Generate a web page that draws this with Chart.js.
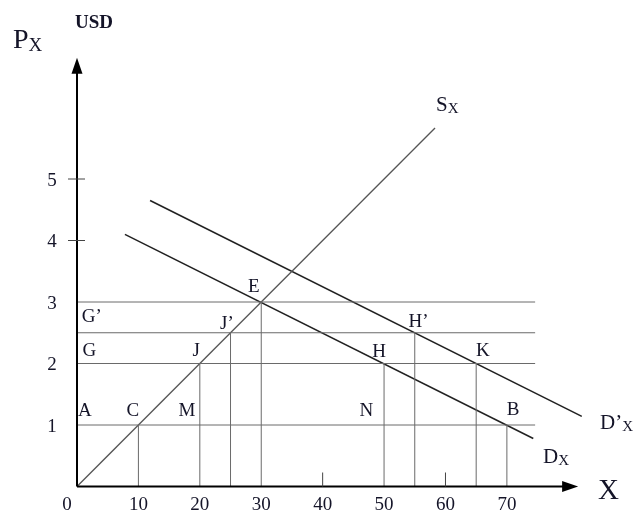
<!DOCTYPE html>
<html>
<head>
<meta charset="utf-8">
<script src="https://cdn.jsdelivr.net/npm/chart.js@4"></script>
<style>
  html, body { margin: 0; padding: 0; background: #fff; }
  #wrap { width: 637px; height: 516px; }
</style>
</head>
<body>
<div id="wrap"><canvas id="chart" width="637" height="516"></canvas></div>
<script>
// supply and the two demand curves (end points)
var supplyX = [0, 58.3]
var supplyY = [0, 5.83]
var demandX = [7.8, 74.3]
var demandY = [4.1, 0.78]
var demand2X = [11.9, 82.2]
var demand2Y = [4.65, 1.14]

// horizontal price lines, from the axis out to hEnd
var hLevels = [1, 2, 2.5, 3]
var hEnd = 74.6

// vertical quantity lines, from the axis up to vTop
var vX = [10, 20, 25, 30, 50, 55, 65, 70]
var vTop = [1, 2, 2.5, 3, 2, 2.5, 2, 1]

// tick labels
var xTicks = [0, 10, 20, 30, 40, 50, 60, 70]
var yTicks = [1, 2, 3, 4, 5]
var xTickMarks = [40, 60]
var yTickMarks = [4, 5]

// point names and where they sit
var ptNames = ["E", "J\u2019", "H\u2019", "G\u2019", "G", "J", "H", "K", "A", "C", "M", "N", "B"]
var ptX = [28.8, 24.4, 55.6, 2.4, 2.0, 19.4, 49.2, 66.1, 1.3, 9.1, 17.9, 47.1, 71.0]
var ptY = [3.24, 2.64, 2.68, 2.75, 2.2, 2.2, 2.18, 2.2, 1.22, 1.22, 1.22, 1.22, 1.24]

var xAxisEnd = 81.6
var yAxisEnd = 6.97

var serif = '"Liberation Serif", "Times New Roman", serif'
var ink = "#141428"

function seg(xs, ys){
  var out = []
  for(var i=0; i<xs.length; i++){
    out.push({x: xs[i], y: ys[i]})
  }
  return out
}

var datasets = []
hLevels.forEach(function(v){
  datasets.push({data: seg([0, hEnd], [v, v]), borderColor: "#6a6a6a", borderWidth: 1})
})
vX.forEach(function(v, i){
  datasets.push({data: seg([v, v], [0, vTop[i]]), borderColor: "#6a6a6a", borderWidth: 1})
})
datasets.push({data: seg(supplyX, supplyY), borderColor: "#555", borderWidth: 1.3})
datasets.push({data: seg(demandX, demandY), borderColor: "#222", borderWidth: 1.6})
datasets.push({data: seg(demand2X, demand2Y), borderColor: "#222", borderWidth: 1.6})

function subText(ctx, main, sub, x, y, size, subSize){
  // main letter followed by a lowered subscript
  ctx.font = size + "px " + serif
  ctx.textAlign = "left"
  ctx.textBaseline = "alphabetic"
  ctx.fillText(main, x, y)
  var w = ctx.measureText(main).width
  ctx.font = subSize + "px " + serif
  ctx.fillText(sub, x + w, y + size*0.1)
}

var drawBits = {
  id: "drawBits",
  afterDatasetsDraw: function(chart){
    var ctx = chart.ctx
    var xs = chart.scales.x
    var ys = chart.scales.y
    var x0 = xs.getPixelForValue(0)
    var y0 = ys.getPixelForValue(0)
    var xe = xs.getPixelForValue(xAxisEnd)
    var ye = ys.getPixelForValue(yAxisEnd)
    ctx.save()
    ctx.strokeStyle = "#000"
    ctx.fillStyle = "#000"
    ctx.lineWidth = 2
    ctx.beginPath()
    ctx.moveTo(x0, y0)
    ctx.lineTo(x0, ye + 12)
    ctx.moveTo(x0, y0)
    ctx.lineTo(xe - 12, y0)
    ctx.stroke()
    // arrow heads
    ctx.beginPath()
    ctx.moveTo(x0, ye)
    ctx.lineTo(x0 - 5.5, ye + 16)
    ctx.lineTo(x0 + 5.5, ye + 16)
    ctx.closePath()
    ctx.fill()
    ctx.beginPath()
    ctx.moveTo(xe, y0)
    ctx.lineTo(xe - 16, y0 - 5.5)
    ctx.lineTo(xe - 16, y0 + 5.5)
    ctx.closePath()
    ctx.fill()

    // small tick marks
    ctx.lineWidth = 1
    ctx.strokeStyle = "#444"
    ctx.beginPath()
    xTickMarks.forEach(function(v){
      var px = xs.getPixelForValue(v)
      ctx.moveTo(px, y0)
      ctx.lineTo(px, y0 - 14)
    })
    yTickMarks.forEach(function(v){
      var py = ys.getPixelForValue(v)
      ctx.moveTo(x0 - 9, py)
      ctx.lineTo(x0 + 8, py)
    })
    ctx.stroke()

    ctx.fillStyle = ink
    ctx.font = "19px " + serif
    ctx.textAlign = "center"
    ctx.textBaseline = "middle"
    xTicks.forEach(function(v){
      var px = xs.getPixelForValue(v)
      if(v == 0) px -= 10
      ctx.fillText(String(v), px, y0 + 19)
    })
    yTicks.forEach(function(v){
      ctx.fillText(String(v), x0 - 25, ys.getPixelForValue(v) + 2)
    })

    ptNames.forEach(function(n, i){
      ctx.fillText(n, xs.getPixelForValue(ptX[i]), ys.getPixelForValue(ptY[i]))
    })

    ctx.font = "bold 19px " + serif
    ctx.fillText("USD", x0 + 17, 23)

    subText(ctx, "P", "X", 13, 48, 28, 19)
    subText(ctx, "S", "X", 436, 111, 21, 15)
    subText(ctx, "D", "X", 543, 463, 21, 15)
    subText(ctx, "D\u2019", "X", 600, 429, 21, 15)
    ctx.font = "29px " + serif
    ctx.textAlign = "left"
    ctx.fillText("X", 598, 499)
    ctx.restore()
  }
}

var chart = new Chart(document.getElementById("chart").getContext("2d"), {
  type: "scatter",
  data: { datasets: datasets },
  options: {
    responsive: false,
    animation: false,
    showLine: true,
    layout: { padding: { left: 77, right: 38, top: 56, bottom: 29.5 } },
    elements: { point: { radius: 0, hoverRadius: 0 }, line: { tension: 0 } },
    plugins: { legend: { display: false }, tooltip: { enabled: false } },
    scales: {
      x: { type: "linear", min: 0, max: 85, display: false },
      y: { type: "linear", min: 0, max: 7, display: false }
    }
  },
  plugins: [drawBits]
});
</script>
</body>
</html>
